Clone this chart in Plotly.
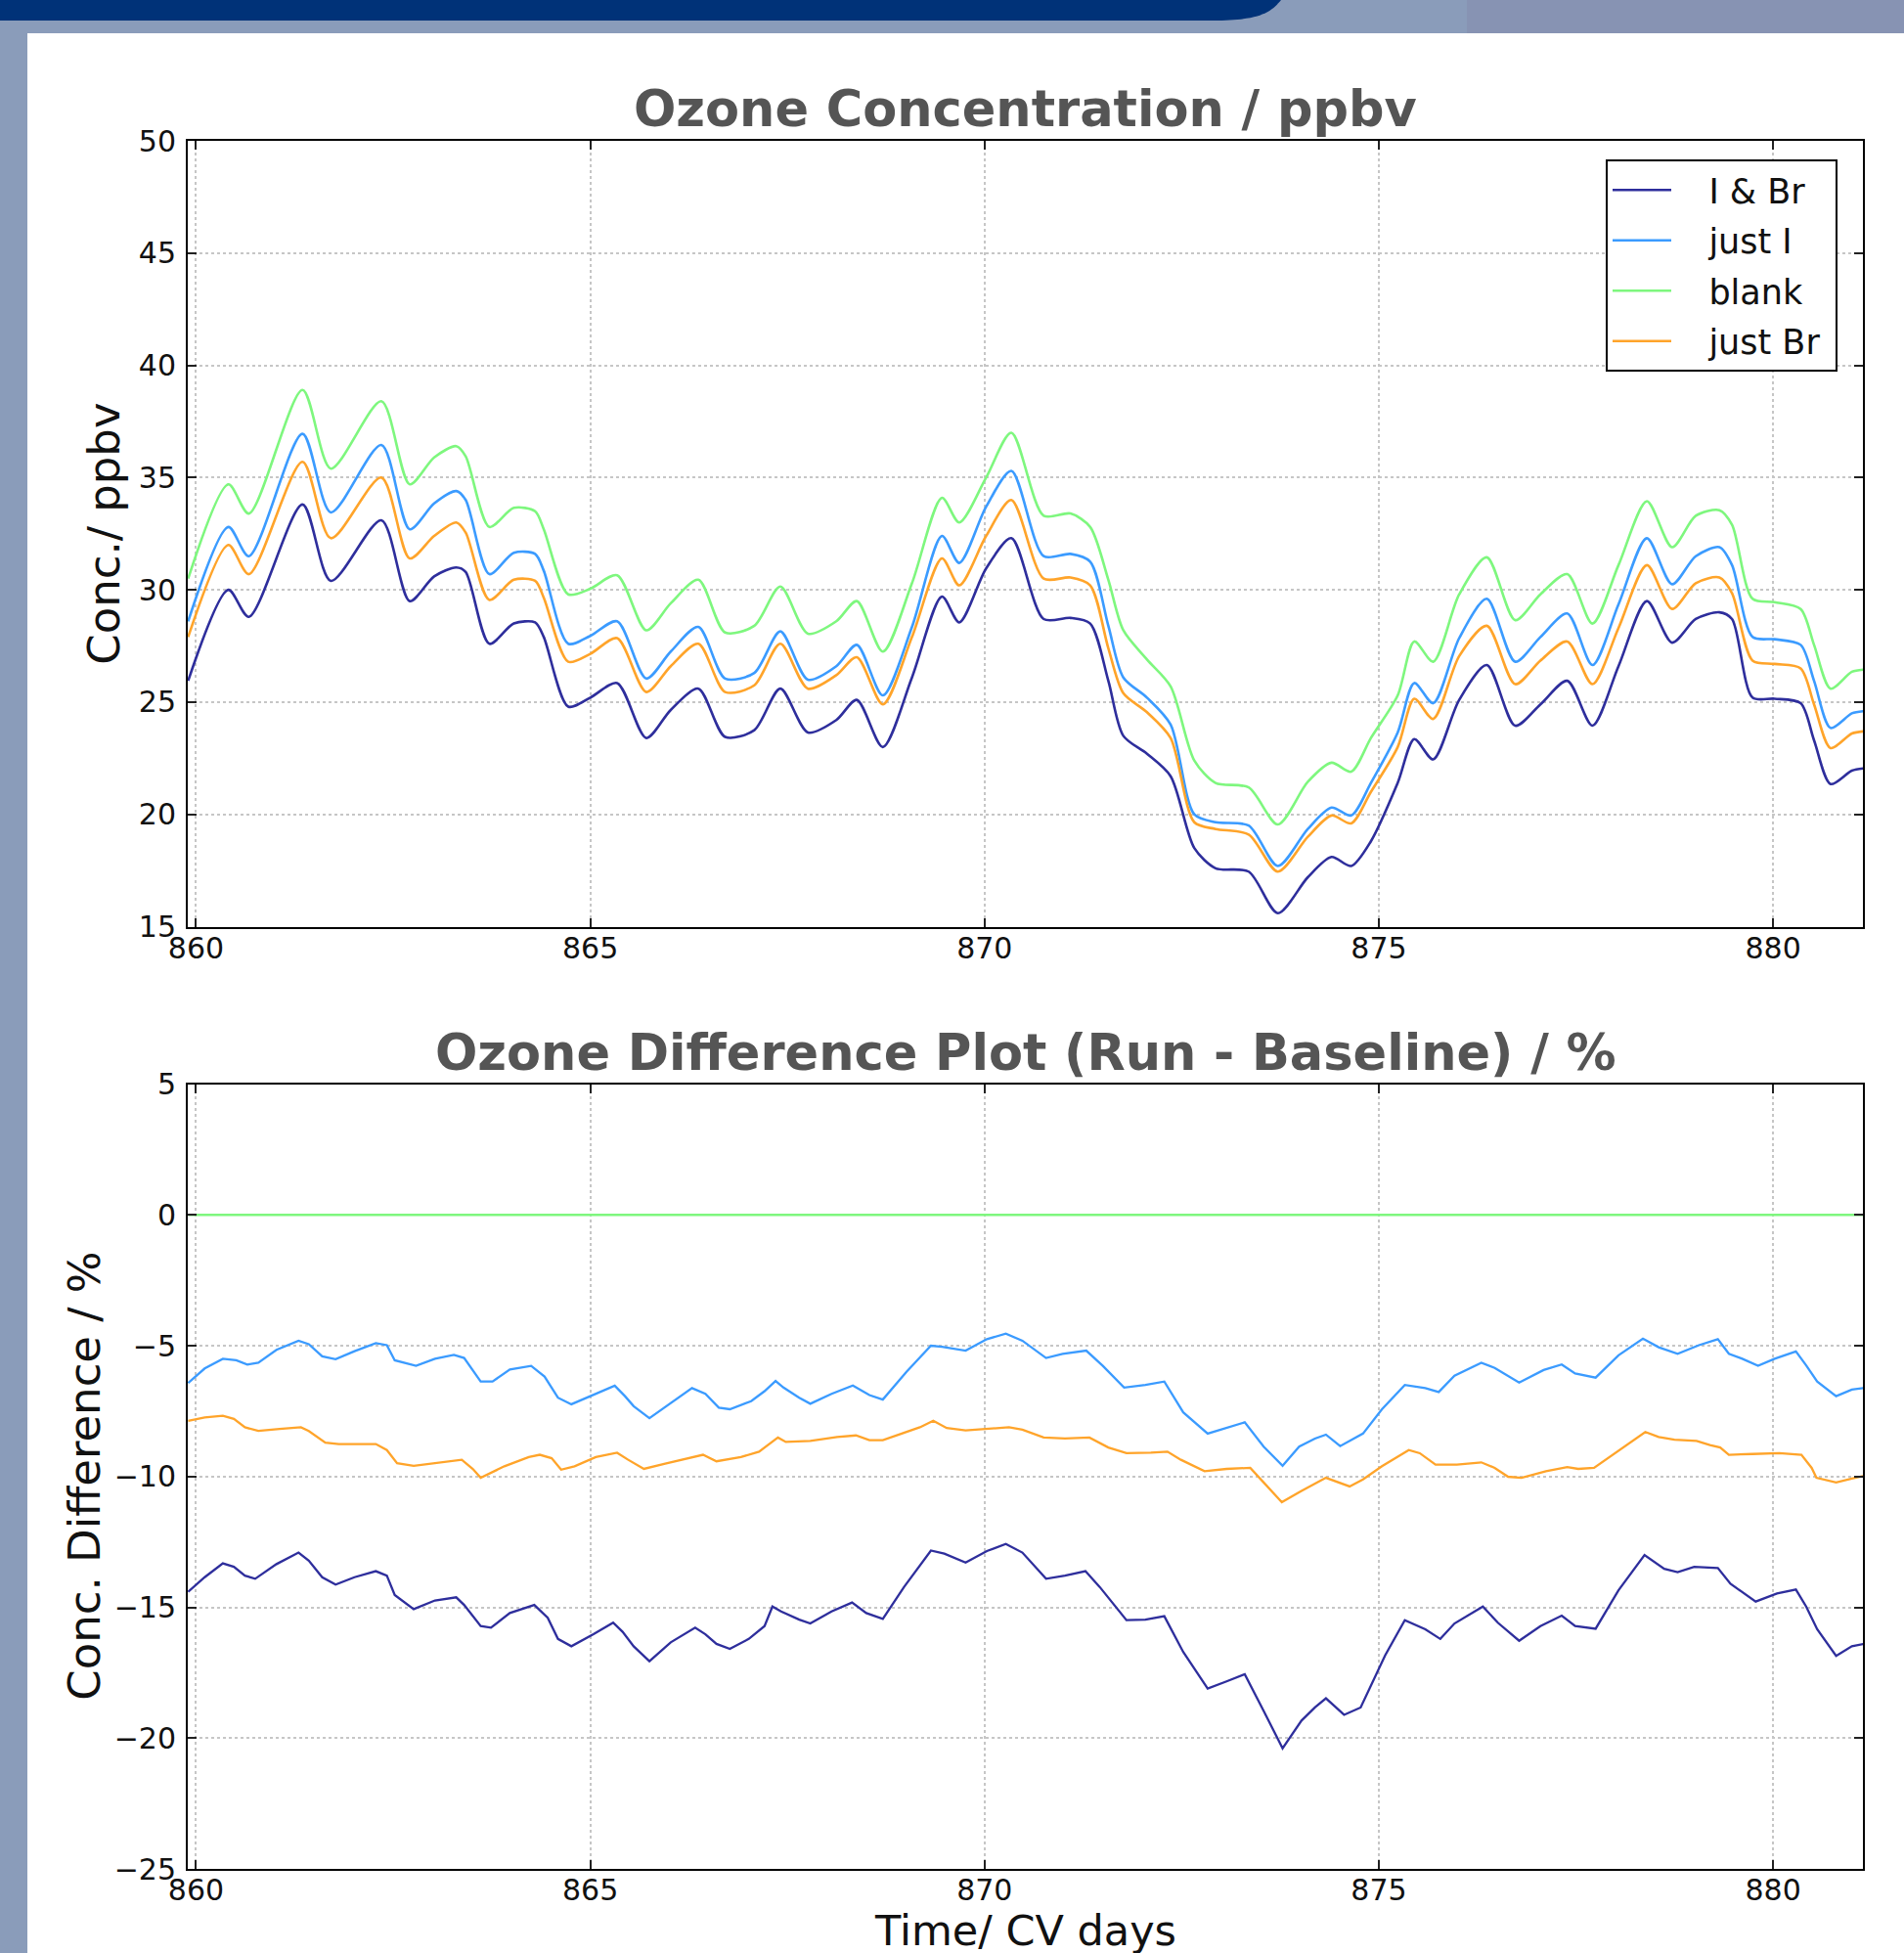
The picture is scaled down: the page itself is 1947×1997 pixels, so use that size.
import plotly.graph_objects as go

# ---------------- data ----------------
series_names = ["I & Br", "just I", "blank", "just Br"]
series_colors = ["#2e2e9c", "#3b9bff", "#7ef77e", "#ffa42a"]

x_ticks = [860, 865, 870, 875, 880]
y_ticks_top = [15, 20, 25, 30, 35, 40, 45, 50]
y_ticks_bot = [-25, -20, -15, -10, -5, 0, 5]

# top panel: ozone concentration / ppbv
top_t = [859.90, 860.41, 860.67, 861.35, 861.71, 862.35, 862.71, 863.02, 863.30, 863.42,
         863.72, 864.03, 864.30, 864.41, 864.72, 865.00, 865.34, 865.71, 866.02, 866.37,
         866.71, 867.08, 867.41, 867.76, 868.12, 868.38, 868.71, 869.08, 869.46, 869.68,
         870.02, 870.34, 870.75, 871.09, 871.34, 871.57, 871.76, 872.06, 872.36, 872.66,
         872.93, 873.35, 873.72, 874.10, 874.40, 874.65, 874.90, 875.24, 875.45, 875.69,
         876.02, 876.37, 876.73, 877.05, 877.39, 877.71, 878.04, 878.40, 878.72, 879.02,
         879.32, 879.48, 879.74, 880.02, 880.35, 880.52, 880.73, 881.00, 881.15]

conc_IBr = [25.95, 30.0, 28.8, 33.8, 30.4, 33.1, 29.5, 30.6, 31.0, 30.8,
            27.6, 28.5, 28.55, 27.9, 24.8, 25.2, 25.85, 23.4, 24.65, 25.6,
            23.45, 23.75, 25.6, 23.65, 24.2, 25.1, 23.0, 26.1, 29.7, 28.55,
            30.95, 32.3, 28.7, 28.75, 28.5, 25.95, 23.5, 22.7, 21.7, 18.5,
            17.6, 17.45, 15.6, 17.2, 18.1, 17.7, 18.8, 21.4, 23.35, 22.45,
            25.1, 26.65, 23.95, 24.9, 25.95, 23.95, 26.6, 29.5, 27.65, 28.7,
            29.0, 28.7, 25.2, 25.15, 24.95, 23.3, 21.35, 21.95, 22.05]

conc_justI = [28.6, 32.8, 31.5, 36.95, 33.45, 36.45, 32.7, 33.85, 34.4, 34.0,
              30.7, 31.65, 31.6, 30.85, 27.6, 27.95, 28.6, 26.05, 27.25, 28.35,
              26.05, 26.3, 28.15, 26.0, 26.6, 27.55, 25.3, 28.35, 32.4, 31.2,
              33.7, 35.3, 31.5, 31.6, 31.25, 28.4, 26.1, 25.2, 24.0, 20.0,
              19.65, 19.5, 17.7, 19.35, 20.3, 19.95, 21.4, 23.65, 25.85, 24.95,
              27.85, 29.6, 26.8, 27.9, 28.95, 26.65, 29.35, 32.3, 30.25, 31.5,
              31.9, 31.1, 27.9, 27.8, 27.55, 25.95, 23.85, 24.5, 24.6]

conc_blank = [30.5, 34.7, 33.4, 38.9, 35.4, 38.4, 34.7, 35.9, 36.4, 35.95,
              32.8, 33.65, 33.5, 32.7, 29.8, 30.05, 30.65, 28.2, 29.4, 30.45,
              28.1, 28.4, 30.15, 28.05, 28.6, 29.5, 27.25, 30.3, 34.1, 33.0,
              35.0, 37.0, 33.3, 33.4, 32.8, 30.45, 28.2, 26.9, 25.7, 22.4,
              21.4, 21.2, 19.55, 21.45, 22.3, 21.9, 23.4, 25.3, 27.7, 26.8,
              29.8, 31.45, 28.65, 29.8, 30.7, 28.5, 31.1, 33.95, 31.9, 33.3,
              33.55, 32.9, 29.6, 29.45, 29.15, 27.55, 25.6, 26.35, 26.45]

conc_justBr = [27.9, 32.0, 30.7, 35.7, 32.3, 35.0, 31.4, 32.4, 33.0, 32.55,
               29.55, 30.45, 30.4, 29.65, 26.8, 27.15, 27.85, 25.45, 26.6, 27.6,
               25.45, 25.75, 27.6, 25.6, 26.2, 27.0, 24.9, 27.9, 31.4, 30.2,
               32.4, 34.0, 30.5, 30.55, 30.2, 27.4, 25.4, 24.55, 23.4, 19.65,
               19.35, 19.1, 17.45, 19.0, 19.95, 19.6, 21.0, 23.0, 25.15, 24.25,
               27.05, 28.4, 25.8, 26.85, 27.7, 25.8, 28.3, 31.1, 29.15, 30.3,
               30.55, 29.85, 26.85, 26.7, 26.5, 24.9, 22.95, 23.6, 23.7]

# bottom panel: difference (run - baseline) / %
diff_t_IBr = [859.90, 860.11, 860.34, 860.48, 860.62, 860.75, 861.02, 861.30, 861.43, 861.60,
              861.77, 862.01, 862.28, 862.42, 862.52, 862.76, 863.03, 863.30, 863.40, 863.61,
              863.74, 863.98, 864.29, 864.46, 864.59, 864.76, 865.04, 865.29, 865.41, 865.55,
              865.75, 866.02, 866.33, 866.46, 866.60, 866.77, 867.01, 867.21, 867.31, 867.42,
              867.65, 867.79, 868.06, 868.32, 868.50, 868.71, 868.98, 869.32, 869.49, 869.76,
              870.03, 870.27, 870.48, 870.78, 871.02, 871.28, 871.46, 871.80, 872.04, 872.28,
              872.52, 872.83, 873.07, 873.30, 873.54, 873.78, 874.02, 874.19, 874.33, 874.56,
              874.77, 875.08, 875.33, 875.59, 875.78, 875.96, 876.32, 876.51, 876.78, 877.05,
              877.32, 877.49, 877.75, 878.04, 878.37, 878.62, 878.79, 879.00, 879.30, 879.46,
              879.78, 880.05, 880.29, 880.42, 880.56, 880.80, 881.00, 881.15]
diff_IBr = [-14.41, -13.85, -13.32, -13.45, -13.79, -13.91, -13.35, -12.91, -13.22, -13.85,
            -14.13, -13.85, -13.62, -13.79, -14.53, -15.07, -14.74, -14.62, -14.91, -15.72,
            -15.78, -15.22, -14.91, -15.40, -16.21, -16.49, -16.03, -15.59, -15.94, -16.49,
            -17.06, -16.34, -15.78, -16.03, -16.40, -16.59, -16.21, -15.72, -14.97, -15.16,
            -15.47, -15.62, -15.16, -14.82, -15.22, -15.44, -14.22, -12.83, -12.95, -13.29,
            -12.85, -12.58, -12.91, -13.91, -13.79, -13.62, -14.22, -15.49, -15.47, -15.34,
            -16.71, -18.11, -17.83, -17.56, -18.96, -20.39, -19.33, -18.83, -18.48, -19.11,
            -18.83, -16.84, -15.49, -15.84, -16.21, -15.62, -14.97, -15.59, -16.28, -15.72,
            -15.32, -15.72, -15.82, -14.35, -13.00, -13.53, -13.66, -13.45, -13.50, -14.10,
            -14.78, -14.47, -14.32, -14.97, -15.84, -16.86, -16.49, -16.40]

diff_t_justI = [859.90, 860.11, 860.34, 860.51, 860.65, 860.79, 861.02, 861.30, 861.43, 861.60,
                861.77, 862.01, 862.28, 862.42, 862.52, 862.79, 863.03, 863.27, 863.40, 863.61,
                863.76, 863.98, 864.25, 864.42, 864.59, 864.76, 865.00, 865.31, 865.44, 865.55,
                865.75, 866.02, 866.29, 866.46, 866.63, 866.77, 867.04, 867.21, 867.35, 867.45,
                867.65, 867.79, 868.06, 868.33, 868.54, 868.71, 869.01, 869.32, 869.46, 869.76,
                870.03, 870.27, 870.48, 870.78, 870.99, 871.29, 871.50, 871.77, 872.04, 872.28,
                872.52, 872.83, 873.03, 873.30, 873.54, 873.78, 873.99, 874.19, 874.33, 874.51,
                874.80, 875.04, 875.33, 875.59, 875.76, 875.96, 876.30, 876.47, 876.78, 877.09,
                877.32, 877.49, 877.75, 878.04, 878.35, 878.55, 878.79, 879.06, 879.30, 879.44,
                879.61, 879.81, 880.02, 880.29, 880.42, 880.56, 880.80, 881.00, 881.15]
diff_justI = [-6.43, -5.87, -5.50, -5.56, -5.72, -5.65, -5.16, -4.81, -4.94, -5.41,
              -5.52, -5.21, -4.90, -4.98, -5.56, -5.77, -5.50, -5.35, -5.47, -6.37,
              -6.37, -5.91, -5.77, -6.18, -6.99, -7.24, -6.93, -6.53, -6.93, -7.31,
              -7.77, -7.18, -6.62, -6.84, -7.37, -7.43, -7.12, -6.74, -6.35, -6.60,
              -6.99, -7.22, -6.84, -6.52, -6.89, -7.06, -6.00, -5.00, -5.04, -5.19,
              -4.75, -4.54, -4.81, -5.47, -5.31, -5.19, -5.77, -6.60, -6.50, -6.37,
              -7.55, -8.36, -8.18, -7.93, -8.86, -9.59, -8.86, -8.55, -8.40, -8.84,
              -8.36, -7.43, -6.50, -6.62, -6.77, -6.15, -5.65, -5.85, -6.41, -5.93,
              -5.72, -6.06, -6.22, -5.37, -4.73, -5.06, -5.31, -4.98, -4.75, -5.31,
              -5.50, -5.77, -5.50, -5.22, -5.75, -6.37, -6.93, -6.68, -6.62]

diff_t_blank = [859.90, 881.15]
diff_blank = [0.0, 0.0]

diff_t_justBr = [859.90, 860.11, 860.34, 860.48, 860.62, 860.79, 861.06, 861.33, 861.43, 861.64,
                 861.81, 862.28, 862.42, 862.55, 862.76, 863.03, 863.37, 863.51, 863.61, 863.91,
                 864.22, 864.36, 864.51, 864.63, 864.80, 865.07, 865.34, 865.48, 865.68, 865.95,
                 866.23, 866.43, 866.60, 866.91, 867.14, 867.28, 867.38, 867.48, 867.79, 868.13,
                 868.37, 868.54, 868.71, 868.95, 869.18, 869.35, 869.52, 869.76, 870.03, 870.31,
                 870.48, 870.75, 871.02, 871.33, 871.57, 871.80, 872.11, 872.32, 872.49, 872.79,
                 873.07, 873.37, 873.54, 873.77, 874.02, 874.33, 874.63, 874.80, 875.04, 875.38,
                 875.52, 875.72, 875.99, 876.30, 876.47, 876.64, 876.81, 877.12, 877.39, 877.53,
                 877.73, 877.97, 878.38, 878.55, 878.75, 879.03, 879.20, 879.33, 879.44, 879.74,
                 880.08, 880.36, 880.49, 880.55, 880.80, 881.00, 881.15]
diff_justBr = [-7.87, -7.74, -7.68, -7.80, -8.12, -8.26, -8.18, -8.12, -8.26, -8.71,
               -8.76, -8.76, -8.99, -9.49, -9.59, -9.49, -9.36, -9.71, -10.05, -9.61,
               -9.26, -9.17, -9.30, -9.74, -9.61, -9.26, -9.09, -9.36, -9.71, -9.51,
               -9.30, -9.17, -9.42, -9.26, -9.05, -8.74, -8.51, -8.68, -8.64, -8.49,
               -8.43, -8.61, -8.61, -8.36, -8.12, -7.87, -8.15, -8.24, -8.18, -8.12,
               -8.21, -8.51, -8.55, -8.51, -8.89, -9.11, -9.09, -9.05, -9.36, -9.80,
               -9.71, -9.67, -10.23, -10.98, -10.55, -10.05, -10.38, -10.11, -9.61, -8.99,
               -9.11, -9.55, -9.55, -9.46, -9.67, -10.01, -10.05, -9.80, -9.64, -9.71,
               -9.67, -9.17, -8.30, -8.49, -8.59, -8.64, -8.80, -8.89, -9.17, -9.14,
               -9.11, -9.17, -9.67, -10.05, -10.23, -10.08, -9.98]

top_values = [conc_IBr, conc_justI, conc_blank, conc_justBr]
bot_times = [diff_t_IBr, diff_t_justI, diff_t_blank, diff_t_justBr]
bot_values = [diff_IBr, diff_justI, diff_blank, diff_justBr]

for v in top_values:
    assert len(v) == len(top_t)
for t, v in zip(bot_times, bot_values):
    assert len(t) == len(v)

# ---------------- layout helpers ----------------
W, H = 1947, 1997
def px(x):
    return x / W
def py(y):
    return 1 - y / H

FONT = "DejaVu Sans"
AX_L, AX_R = 192, 1905
TOP_T, TOP_B = 144, 947.5
BOT_T, BOT_B = 1108.5, 1911
PAD = "\u00a0\u00a0\u00a0"

fig = go.Figure()

for name, vals, col in zip(series_names, top_values, series_colors):
    fig.add_trace(go.Scatter(
        x=top_t, y=vals, mode="lines", name=PAD + name + "\u00a0", legendgroup=name,
        line=dict(color=col, width=2.6, shape="spline", smoothing=0.8),
        xaxis="x", yaxis="y", hoverinfo="skip"))

for name, t, vals, col in zip(series_names, bot_times, bot_values, series_colors):
    fig.add_trace(go.Scatter(
        x=t, y=vals, mode="lines", name=name, legendgroup=name, showlegend=False,
        line=dict(color=col, width=2.3),
        xaxis="x2", yaxis="y2", hoverinfo="skip"))

axis_common = dict(
    showline=True, linecolor="black", linewidth=2, mirror="ticks",
    ticks="inside", ticklen=9, tickwidth=1.5, tickcolor="#222222",
    showgrid=True, gridcolor="#c6c6c6", gridwidth=1.5, griddash="dot",
    zeroline=False,
    tickfont=dict(family=FONT, size=30, color="#111111"),
)
xrange = [859.895, 881.14]

fig.update_layout(
    width=W, height=H,
    margin=dict(l=0, r=0, t=0, b=0, autoexpand=False),
    paper_bgcolor="#8a9cba",
    plot_bgcolor="rgba(0,0,0,0)",
    showlegend=True,
    xaxis=dict(axis_common, domain=[px(AX_L), px(AX_R)], range=xrange,
               tickvals=x_ticks, anchor="y", ticklabelstandoff=-6),
    yaxis=dict(axis_common, domain=[py(TOP_B), py(TOP_T)], range=[15, 50],
               tickvals=y_ticks_top, anchor="x", ticklabelstandoff=4),
    xaxis2=dict(axis_common, domain=[px(AX_L), px(AX_R)], range=xrange,
                tickvals=x_ticks, anchor="y2", ticklabelstandoff=-6),
    yaxis2=dict(axis_common, domain=[py(BOT_B), py(BOT_T)], range=[-25, 5],
                tickvals=y_ticks_bot, anchor="x2", ticklabelstandoff=4),
    legend=dict(x=px(1642), y=py(163), xanchor="left", yanchor="top",
                bgcolor="white", bordercolor="black", borderwidth=2,
                font=dict(family=FONT, size=35, color="#111111"),
                tracegroupgap=3, itemwidth=60),
)

shapes = [
    # white slide panel
    dict(type="rect", xref="paper", yref="paper", x0=px(28), x1=1.0, y0=0.0, y1=py(34),
         fillcolor="white", line=dict(width=0), layer="below"),
    # slightly different tone on upper right strip
    dict(type="rect", xref="paper", yref="paper", x0=px(1500), x1=1.0, y0=py(34), y1=1.0,
         fillcolor="#8793b3", line=dict(width=0), layer="below"),
    # navy header bar with rounded end
    dict(type="path", xref="paper", yref="paper",
         path=f"M 0 {py(0)} L {px(1310)} {py(0)} C {px(1300)} {py(12)} {px(1290)} {py(21)} {px(1240)} {py(21)} L 0 {py(21)} Z",
         fillcolor="#003278", line=dict(width=0), layer="below"),
]
fig.update_layout(shapes=shapes)

ann = []
ann.append(dict(text="Ozone Concentration / ppbv", x=px((AX_L + AX_R) / 2), y=py(111),
                xref="paper", yref="paper", showarrow=False, xanchor="center", yanchor="middle",
                font=dict(family=FONT, size=51, color="#555555", weight="bold")))
ann.append(dict(text="Ozone Difference Plot (Run - Baseline) / %", x=px((AX_L + AX_R) / 2), y=py(1076),
                xref="paper", yref="paper", showarrow=False, xanchor="center", yanchor="middle",
                font=dict(family=FONT, size=51, color="#555555", weight="bold")))
ann.append(dict(text="Conc./ ppbv", x=px(107), y=py((TOP_T + TOP_B) / 2),
                xref="paper", yref="paper", showarrow=False, textangle=-90,
                xanchor="center", yanchor="middle",
                font=dict(family=FONT, size=45, color="#111111")))
ann.append(dict(text="Conc. Difference / %", x=px(87), y=py((BOT_T + BOT_B) / 2),
                xref="paper", yref="paper", showarrow=False, textangle=-90,
                xanchor="center", yanchor="middle",
                font=dict(family=FONT, size=45, color="#111111")))
ann.append(dict(text="Time/ CV days", x=px((AX_L + AX_R) / 2), y=py(1974),
                xref="paper", yref="paper", showarrow=False,
                xanchor="center", yanchor="middle",
                font=dict(family=FONT, size=43, color="#111111")))
fig.update_layout(annotations=ann)

fig.write_html("out.html",
               config={"displayModeBar": False},
               post_script="document.body.style.margin='0';document.body.style.padding='0';"
                           "document.body.style.background='#8a9cba';")
